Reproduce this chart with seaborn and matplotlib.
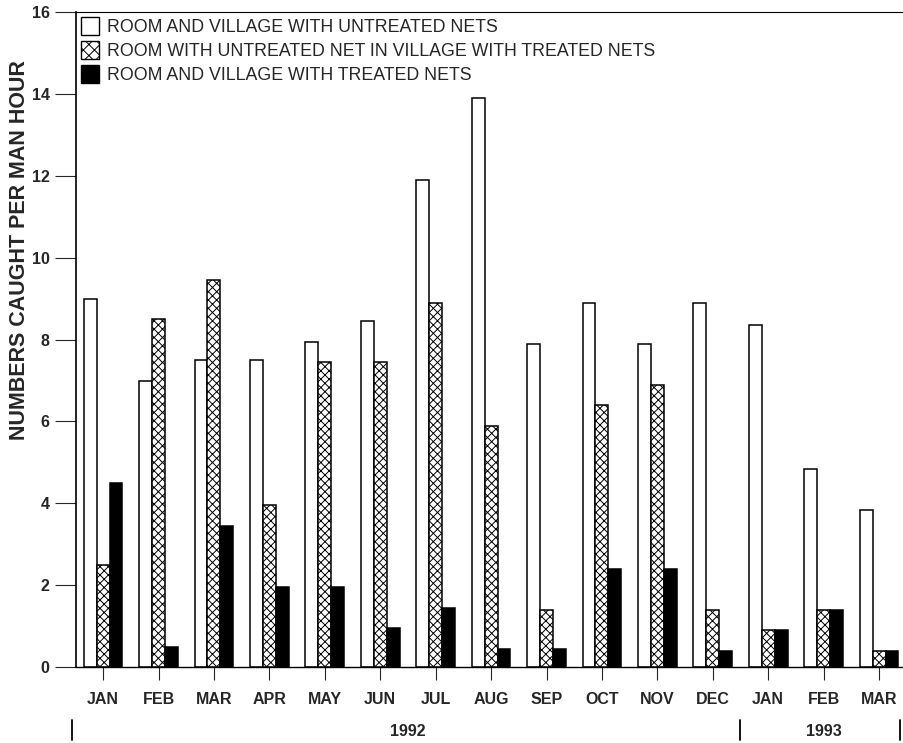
import matplotlib
matplotlib.use("Agg")
import matplotlib.pyplot as plt
from matplotlib.patches import Patch
import seaborn as sns
import pandas as pd

# Monthly catches, Jan 1992 - Mar 1993
months = ["JAN", "FEB", "MAR", "APR", "MAY", "JUN", "JUL", "AUG",
          "SEP", "OCT", "NOV", "DEC", "JAN", "FEB", "MAR"]
untreated_village = [9.0, 7.0, 7.5, 7.5, 7.95, 8.45, 11.9, 13.9,
                     7.9, 8.9, 7.9, 8.9, 8.35, 4.85, 3.85]
untreated_in_treated_village = [2.5, 8.5, 9.45, 3.95, 7.45, 7.45, 8.9, 5.9,
                                1.4, 6.4, 6.9, 1.4, 0.9, 1.4, 0.4]
treated_village = [4.5, 0.5, 3.45, 1.95, 1.95, 0.95, 1.45, 0.45,
                   0.45, 2.4, 2.4, 0.4, 0.9, 1.4, 0.4]
series_names = ["ROOM AND VILLAGE WITH UNTREATED NETS",
                "ROOM WITH UNTREATED NET IN VILLAGE WITH TREATED NETS",
                "ROOM AND VILLAGE WITH TREATED NETS"]
year_labels = ["1992", "1993"]
year_label_x = [5.5, 13.0]
year_breaks = [-0.56, 11.5, 14.38]

sns.set_theme(style="white")
plt.rcParams["font.family"] = ["Liberation Sans", "DejaVu Sans"]
plt.rcParams["hatch.linewidth"] = 0.7
plt.rcParams["hatch.color"] = "black"

# month names repeat across years, so key each bar group by its position
periods = [f"{m}-{i}" for i, m in enumerate(months)]
df = pd.DataFrame({
    "period": periods * 3,
    "value": untreated_village + untreated_in_treated_village + treated_village,
    "group": [n for n in series_names for _ in months],
})

fig = plt.figure(figsize=(9.04, 7.43), dpi=100)
ax = fig.add_axes([0.084, 0.102, 0.916, 0.882])

sns.barplot(data=df, x="period", y="value", hue="group",
            order=periods, hue_order=series_names,
            palette=["white", "white", "black"],
            edgecolor="black", linewidth=1.1, width=0.7, gap=0,
            saturation=1, ax=ax)

hatches = ["", "xxxx", ""]
for cont, h in zip(ax.containers, hatches):
    for bar in cont:
        bar.set_hatch(h)

if ax.get_legend() is not None:
    ax.get_legend().remove()

handles = [Patch(facecolor="white", edgecolor="black", linewidth=1.0),
           Patch(facecolor="white", edgecolor="black", linewidth=1.0, hatch="xxx"),
           Patch(facecolor="black", edgecolor="black", linewidth=1.0)]
ax.legend(handles, series_names, loc="upper left", bbox_to_anchor=(0.0, 1.0),
          frameon=False, fontsize=12.8, handlelength=1.0, handleheight=1.15,
          handletextpad=0.45, labelspacing=0.28, borderaxespad=0.0, borderpad=0.3)

ax.set_ylim(0, 16)
ax.set_yticks(range(0, 17, 2))
ax.set_xlim(-0.49, 14.45)
ax.set_xticks(range(len(months)))
ax.set_xticklabels(months)
ax.set_xlabel("")
ax.set_ylabel("NUMBERS CAUGHT PER MAN HOUR", fontsize=15.5, fontweight="bold")
ax.yaxis.set_label_coords(-0.056, 0.637)

for lab in ax.get_yticklabels():
    lab.set_fontweight("bold")
    lab.set_fontsize(11.5)
for lab in ax.get_xticklabels():
    lab.set_fontweight("bold")
    lab.set_fontsize(11.5)

ax.tick_params(axis="y", direction="out", length=15, width=0.8, pad=4, left=True)
ax.tick_params(axis="x", direction="out", length=9, width=0.8, pad=9, bottom=True)

for side in ["left", "bottom", "top"]:
    ax.spines[side].set_visible(True)
    ax.spines[side].set_color("black")
ax.spines["left"].set_linewidth(1.2)
ax.spines["bottom"].set_linewidth(1.0)
ax.spines["top"].set_linewidth(0.8)
ax.spines["right"].set_visible(False)

# year brackets beneath the month labels
trans = ax.get_xaxis_transform()
for name, xpos in zip(year_labels, year_label_x):
    ax.text(xpos, -0.098, name, transform=trans, ha="center", va="center",
            fontsize=11.5, fontweight="bold")
for xpos in year_breaks:
    ax.plot([xpos, xpos], [-0.081, -0.111], transform=trans,
            color="black", linewidth=1.3, clip_on=False)

fig.savefig("out.png", dpi=100, facecolor="white")
